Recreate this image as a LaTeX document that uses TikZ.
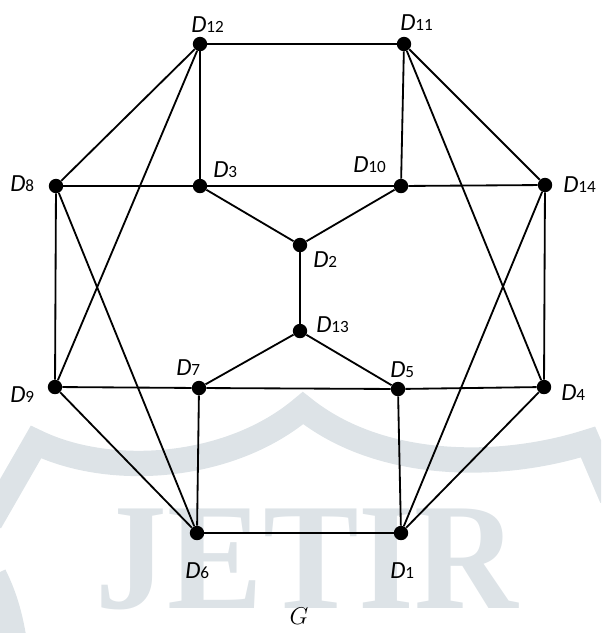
\documentclass[tikz,border=0pt]{standalone}
\usepackage{fontspec}
\setmainfont{Carlito}
\newfontfamily\wmfont{Liberation Serif}
\definecolor{wmcol}{RGB}{221,227,231}
\newcommand{\dlab}[1]{{\fontsize{17.5}{18}\selectfont\itshape D}{\fontsize{12.2}{13}\selectfont #1}}
\tikzset{
  vtx/.style={circle,fill=black,draw=none,inner sep=0pt,minimum size=0.36cm},
  edge/.style={draw=black,line width=1.3pt},
  lab/.style={inner sep=0pt,anchor=base west},
  wmband/.style={draw=wmcol,line width=18pt,line join=miter,line cap=butt},
}
\begin{document}
\begin{tikzpicture}[x=0.025cm,y=-0.025cm]
\useasboundingbox (0,0) rectangle (601,633);
% watermark
\begin{scope}
\clip (0,0) rectangle (601,633);
\draw[wmband] (-10,522) -- (36,442) .. controls (110,478) and (230,470) .. (303,408)
  .. controls (380,470) and (500,470) .. (588,442) -- (612,498);
\draw[wmband] (-6,575) .. controls (4,595) and (10,615) .. (14,640);
\end{scope}
\node[inner sep=0pt,anchor=base,text=wmcol] (wmtext) at (307,608)
  {\scalebox{0.99}[1.05]{\fontsize{103}{103}\selectfont\wmfont\bfseries JETIR}};
% vertices
\node[vtx] (d12) at (200,44) {};
\node[vtx] (d11) at (404,44) {};
\node[vtx] (d8) at (56,186) {};
\node[vtx] (d3) at (200,186) {};
\node[vtx] (d10) at (401,186) {};
\node[vtx] (d14) at (545,185) {};
\node[vtx] (d2) at (300,245) {};
\node[vtx] (d13) at (300,331) {};
\node[vtx] (d9) at (55,387) {};
\node[vtx] (d7) at (199,388) {};
\node[vtx] (d5) at (398,389) {};
\node[vtx] (d4) at (544,387) {};
\node[vtx] (d6) at (197,533) {};
\node[vtx] (d1) at (401,533) {};
% edges
\draw[edge] (d12) -- (d11);
\draw[edge] (d12) -- (d3);
\draw[edge] (d12) -- (d8);
\draw[edge] (d12) -- (d9);
\draw[edge] (d11) -- (d10);
\draw[edge] (d11) -- (d14);
\draw[edge] (d11) -- (d4);
\draw[edge] (d8) -- (d3);
\draw[edge] (d3) -- (d10);
\draw[edge] (d10) -- (d14);
\draw[edge] (d3) -- (d2);
\draw[edge] (d10) -- (d2);
\draw[edge] (d2) -- (d13);
\draw[edge] (d13) -- (d7);
\draw[edge] (d13) -- (d5);
\draw[edge] (d8) -- (d9);
\draw[edge] (d8) -- (d6);
\draw[edge] (d9) -- (d7);
\draw[edge] (d7) -- (d5);
\draw[edge] (d5) -- (d4);
\draw[edge] (d9) -- (d6);
\draw[edge] (d14) -- (d4);
\draw[edge] (d14) -- (d1);
\draw[edge] (d4) -- (d1);
\draw[edge] (d7) -- (d6);
\draw[edge] (d5) -- (d1);
\draw[edge] (d6) -- (d1);
% labels
\node[lab] (l12) at (191,32) {\dlab{12}};
\node[lab] (l11) at (400,30) {\dlab{11}};
\node[lab] (l8) at (10,191) {\dlab{8}};
\node[lab] (l3) at (213,177) {\dlab{3}};
\node[lab] (l10) at (353,172) {\dlab{10}};
\node[lab] (l14) at (563,192) {\dlab{14}};
\node[lab] (l2) at (313,267) {\dlab{2}};
\node[lab] (l13) at (316,332) {\dlab{13}};
\node[lab] (l9) at (10,402) {\dlab{9}};
\node[lab] (l7) at (176,375) {\dlab{7}};
\node[lab] (l5) at (390,377) {\dlab{5}};
\node[lab] (l4) at (561,400) {\dlab{4}};
\node[lab] (l6) at (185,578) {\dlab{6}};
\node[lab] (l1) at (390,578) {\dlab{1}};
\node[inner sep=0pt,anchor=base] (gl) at (299,624) {\fontsize{16}{17}\selectfont $G$};
\end{tikzpicture}
\end{document}
